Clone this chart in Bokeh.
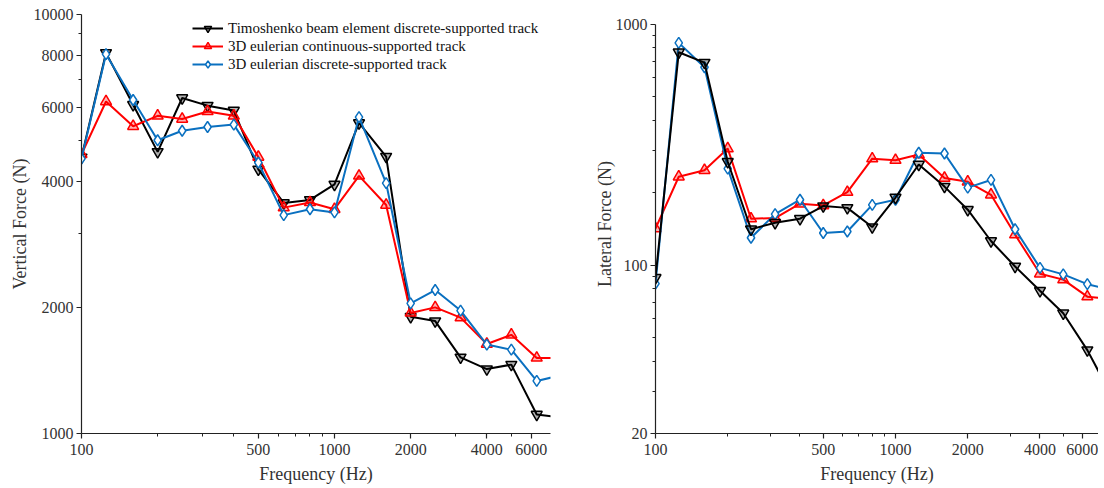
from bokeh.plotting import figure
from bokeh.models import Range1d, FixedTicker, PrintfTickFormatter, Legend, LegendItem
from bokeh.layouts import row
from bokeh.embed import file_html
from bokeh.resources import INLINE

# ---------------- data ----------------
freq = [100, 125, 160, 200, 250, 315, 400, 500, 630, 800, 1000, 1250, 1600,
        2000, 2500, 3150, 4000, 5000, 6300, 8000]

# Vertical force (N)
timo_v = [4560, 8100, 6090, 4700, 6320, 6060, 5900, 4270, 3550, 3610, 3930, 5510, 4580,
          1900, 1855, 1520, 1425, 1460, 1110, 1090]
cont_v = [4640, 6200, 5410, 5730, 5630, 5870, 5730, 4570, 3460, 3560, 3430, 4120, 3510,
          1940, 2000, 1890, 1635, 1720, 1515, 1515]
disc_v = [4530, 8040, 6250, 5010, 5280, 5390, 5460, 4430, 3320, 3430, 3370, 5690, 3960,
          2045, 2200, 1965, 1630, 1585, 1335, 1380]

# Lateral force (N)
timo_l = [88.7, 766, 694, 269, 141, 150, 156, 176, 173, 144, 191, 262, 212,
          170, 126, 98.8, 78.3, 63.2, 44.4, 28.3]
cont_l = [142, 233, 248, 305, 156, 157, 180, 177, 201, 277, 273, 288, 230,
          222, 196, 134, 92.1, 87.1, 74, 72.3]
disc_l = [83.8, 838, 664, 252, 130, 163, 187, 136, 138, 178, 187, 293, 291,
          210, 226, 141, 97.5, 91.6, 83.4, 78.7]

series_names = ["Timoshenko beam element discrete-supported track",
                "3D eulerian continuous-supported track",
                "3D eulerian discrete-supported track"]

x_major = [100, 500, 1000, 2000, 4000, 6000]
x_minor = [200, 300, 400, 600, 700, 800, 900, 3000, 5000]
yv_major = [1000, 2000, 4000, 6000, 8000, 10000]
yv_minor = [3000, 5000, 7000, 9000]
yl_major = [20, 100, 1000]
yl_minor = [30, 40, 50, 60, 70, 80, 90, 200, 300, 400, 500, 600, 700, 800, 900]

FONT = "Liberation Serif"
BLACK = "#000000"
RED = "#ff0000"
BLUE = "#0a70c0"

H = 486
TOP = 14
FH = 423
BOTTOM = H - TOP - FH


def style(p, xlabel, ylabel, y_major, y_minor, ylab_standoff):
    p.grid.visible = False
    p.outline_line_color = None
    p.xaxis.ticker = FixedTicker(ticks=x_major, minor_ticks=x_minor)
    p.yaxis.ticker = FixedTicker(ticks=y_major, minor_ticks=y_minor)
    for ax in (p.xaxis, p.yaxis):
        ax.formatter = PrintfTickFormatter(format="%d")
        ax.axis_line_color = "#222222"
        ax.axis_line_width = 1.2
        ax.major_tick_line_color = "#222222"
        ax.minor_tick_line_color = "#222222"
        ax.major_tick_line_width = 1.2
        ax.minor_tick_line_width = 1
        ax.major_tick_in = 0
        ax.major_tick_out = 5
        ax.minor_tick_in = 0
        ax.minor_tick_out = 3
        ax.major_label_text_font = FONT
        ax.major_label_text_font_size = "16px"
        ax.major_label_text_color = "#333333"
        ax.axis_label_text_font = FONT
        ax.axis_label_text_font_size = "18px"
        ax.axis_label_text_font_style = "normal"
        ax.axis_label_text_color = "#333333"
    p.xaxis.axis_label = xlabel
    p.yaxis.axis_label = ylabel
    p.xaxis.major_label_standoff = 5
    p.xaxis.axis_label_standoff = 6
    p.yaxis.major_label_standoff = 3
    p.yaxis.axis_label_standoff = ylab_standoff


def add_series(p, y, kind):
    if kind == 0:
        l = p.line(freq, y, line_color=BLACK, line_width=2)
        m = p.scatter(freq, y, marker="inverted_triangle", size=11, line_color=BLACK,
                      fill_color=BLACK, fill_alpha=0.3, line_width=1.5)
    elif kind == 1:
        l = p.line(freq, y, line_color=RED, line_width=2)
        m = p.scatter(freq, y, marker="triangle", size=11, line_color=RED,
                      fill_color=RED, fill_alpha=0.3, line_width=1.5)
    else:
        l = p.line(freq, y, line_color=BLUE, line_width=2)
        m = p.scatter(freq, y, marker="diamond", size=11, line_color=BLUE,
                      fill_color="white", fill_alpha=1.0, line_width=1.5)
    return [l, m]


# ---------------- left: vertical force ----------------
L1, FW1, R1 = 81, 469, 40
p1 = figure(width=L1 + FW1 + R1, height=H, x_axis_type="log", y_axis_type="log",
            x_range=Range1d(100, 10 ** (2 + FW1 / 253)), y_range=Range1d(1000, 10000),
            min_border_left=L1, min_border_right=R1, min_border_top=TOP,
            min_border_bottom=BOTTOM, output_backend="svg", toolbar_location=None)
style(p1, "Frequency (Hz)", "Vertical Force (N)", yv_major, yv_minor, 1)
r_t = add_series(p1, timo_v, 0)
r_c = add_series(p1, cont_v, 1)
r_d = add_series(p1, disc_v, 2)

legend = Legend(items=[LegendItem(label=series_names[0], renderers=r_t),
                       LegendItem(label=series_names[1], renderers=r_c),
                       LegendItem(label=series_names[2], renderers=r_d)],
                location=(111, 360), orientation="vertical",
                glyph_width=31, glyph_height=18, label_height=18, label_standoff=5,
                spacing=0, padding=0, margin=0,
                label_text_font=FONT, label_text_font_size="15px", label_text_color="#111111",
                border_line_alpha=0, background_fill_alpha=0)
p1.add_layout(legend, "center")

# ---------------- right: lateral force ----------------
L2, FW2 = 65, 443
dec2 = 413 / 1.69897          # pixels per decade on the lateral axis (20 .. 1000 over 413 px)
p2 = figure(width=L2 + FW2, height=H, x_axis_type="log", y_axis_type="log",
            x_range=Range1d(100, 10 ** (2 + FW2 / 240)),
            y_range=Range1d(20, 10 ** (3 + 10 / dec2)),
            min_border_left=L2, min_border_right=0, min_border_top=TOP,
            min_border_bottom=BOTTOM, output_backend="svg", toolbar_location=None)
style(p2, "Frequency (Hz)", "Lateral Force (N)", yl_major, yl_minor, -2)
p2.yaxis.bounds = (20, 1000)
add_series(p2, cont_l, 1)
add_series(p2, disc_l, 2)
add_series(p2, timo_l, 0)

layout = row(p1, p2)
open("out.html", "w").write(file_html(layout, INLINE))
